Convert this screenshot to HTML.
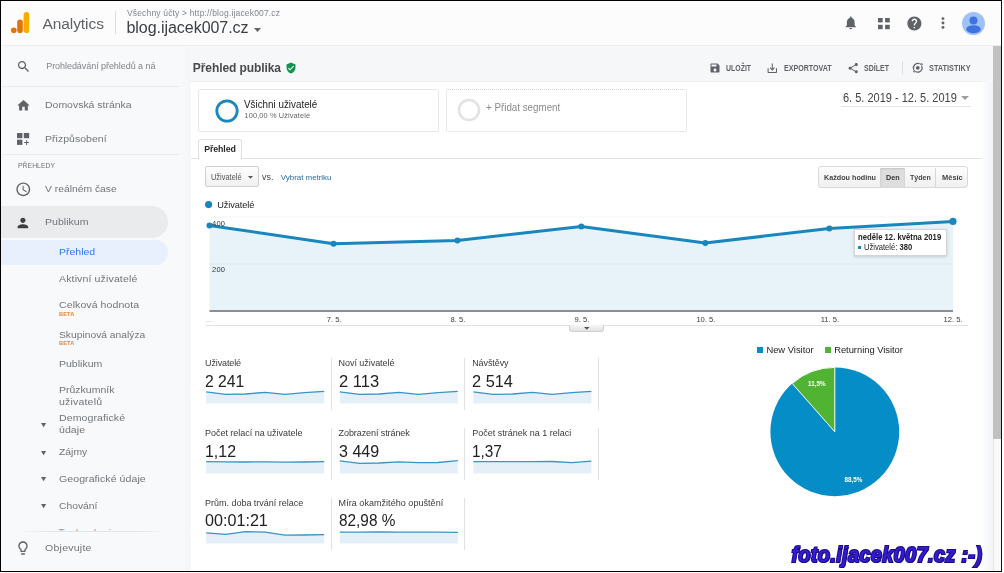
<!DOCTYPE html>
<html lang="cs"><head><meta charset="utf-8"><title>Analytics - Přehled publika</title>
<style>
*{margin:0;padding:0;box-sizing:border-box}
html,body{width:1004px;height:573px;overflow:hidden;background:#fff}
body{position:relative;font-family:"Liberation Sans",sans-serif;color:#333}
.a{position:absolute}
.t{position:absolute;white-space:nowrap;line-height:1}
svg{position:absolute;overflow:visible}
</style></head>
<body>
<div class="a" style="left:0px;top:0px;width:1004px;height:573px;background:#f8f9fa"></div>
<div class="a" style="left:189px;top:46px;width:804px;height:526px;background:#f6f7f9"></div>
<div class="a" style="left:190.5px;top:81.5px;width:791.5px;height:490.5px;background:#fff"></div>
<div class="a" style="left:181px;top:46px;width:8px;height:526px;background:linear-gradient(to right,rgba(0,0,0,0),rgba(0,0,0,.012))"></div>
<div class="a" style="left:0px;top:0px;width:1004px;height:45px;background:#fcfcfd"></div>
<div class="a" style="left:0px;top:44.6px;width:1004px;height:1.4px;background:#ebedef"></div>
<div class="a" style="left:190.5px;top:81px;width:791.5px;height:1px;background:#eef0f2"></div>
<div class="a" style="left:982px;top:82px;width:11px;height:490px;background:linear-gradient(to right,#fcfdfe,#f2f4f8)"></div>
<div class="a" style="left:993px;top:46px;width:8px;height:526px;background:#f9f9f9;border-left:1px solid #e6e6e6"></div>
<div class="a" style="left:993px;top:46px;width:8px;height:393px;background:#c1c1c1"></div>
<svg style="left:11px;top:12px" width="19" height="21" viewBox="0 0 19 21"><rect x="12.6" y="0" width="5.6" height="21" rx="2.8" fill="#f9ab00"/><rect x="6.2" y="7.6" width="5.6" height="13.4" rx="2.8" fill="#e37400"/><circle cx="2.8" cy="18.2" r="2.8" fill="#e37400"/></svg>
<div class="a" style="left:115px;top:11px;width:1px;height:23px;background:#dadce0"></div>
<svg style="left:254px;top:27.5px" width="7" height="4" viewBox="0 0 7 4"><path d="M0 0h7L3.5 4z" fill="#5f6368"/></svg>
<svg style="left:842.5px;top:15px" width="15.5" height="15.5" viewBox="0 0 24 24"><path fill="#5f6368" d="M12 22c1.1 0 2-.9 2-2h-4c0 1.1.89 2 2 2zm6-6v-5c0-3.07-1.64-5.64-4.5-6.32V4c0-.83-.67-1.5-1.5-1.5s-1.5.67-1.5 1.5v.68C7.63 5.36 6 7.92 6 11v5l-2 2v1h16v-1l-2-2z"/></svg>
<svg style="left:878px;top:18px" width="12" height="11.4" viewBox="0 0 12 11.4"><rect x="0" y="0" width="4.7" height="4.4" fill="#5f6368"/><rect x="7.1" y="0" width="4.7" height="4.4" fill="#5f6368"/><rect x="0" y="6.8" width="4.7" height="4.4" fill="#5f6368"/><rect x="7.1" y="6.8" width="4.7" height="4.4" fill="#5f6368"/></svg>
<svg style="left:906px;top:14.6px" width="16.8" height="16.8" viewBox="0 0 24 24"><path fill="#5f6368" d="M12 2C6.48 2 2 6.48 2 12s4.48 10 10 10 10-4.48 10-10S17.52 2 12 2zm1 17h-2v-2h2v2zm2.07-7.75l-.9.92C13.45 12.9 13 13.5 13 15h-2v-.5c0-1.1.45-2.1 1.17-2.83l1.24-1.26c.37-.36.59-.86.59-1.41 0-1.1-.9-2-2-2s-2 .9-2 2H8c0-2.21 1.79-4 4-4s4 1.79 4 4c0 .88-.36 1.68-.93 2.25z"/></svg>
<svg style="left:940.5px;top:17px" width="4" height="12" viewBox="0 0 4 12"><circle cx="2" cy="1.6" r="1.45" fill="#5f6368"/><circle cx="2" cy="6" r="1.45" fill="#5f6368"/><circle cx="2" cy="10.4" r="1.45" fill="#5f6368"/></svg>
<svg style="left:961.6px;top:11.7px" width="23" height="23" viewBox="0 0 23 23"><circle cx="11.5" cy="11.5" r="11.5" fill="#a0c0f8"/><circle cx="11.5" cy="8.4" r="4" fill="#3d74e0"/><ellipse cx="11.5" cy="17.2" rx="7.2" ry="4" fill="#3d74e0"/></svg>
<svg style="left:15.6px;top:58.7px" width="15.2" height="15.2" viewBox="0 0 24 24"><path fill="#5f6368" d="M15.5 14h-.79l-.28-.27C15.41 12.59 16 11.11 16 9.5 16 5.91 13.09 3 9.5 3S3 5.91 3 9.5 5.91 16 9.5 16c1.61 0 3.09-.59 4.23-1.57l.27.28v.79l5 4.99L20.49 19l-4.99-5zm-6 0C7.01 14 5 11.99 5 9.5S7.01 5 9.5 5 14 7.01 14 9.5 11.99 14 9.5 14z"/></svg>
<div class="a" style="left:2px;top:86.4px;width:177px;height:1px;background:#ebecee"></div>
<svg style="left:15.5px;top:97.5px" width="15" height="15" viewBox="0 0 24 24"><path fill="#5f6368" d="M10 20v-6h4v6h5v-8h3L12 3 2 12h3v8z"/></svg>
<svg style="left:16.8px;top:133px" width="12.6" height="12.2" viewBox="0 0 12.6 12.2"><rect x="0" y="0" width="5.4" height="5.2" fill="#5f6368"/><rect x="6.8" y="0" width="5.4" height="5.2" fill="#5f6368"/><rect x="0" y="6.7" width="5.4" height="5.2" fill="#5f6368"/><path d="M9.1 7.2h1v1.9h1.9v1h-1.9v1.9h-1v-1.9H7.2v-1h1.9z" fill="#5f6368"/></svg>
<div class="a" style="left:2px;top:153.9px;width:177px;height:1px;background:#ebecee"></div>
<svg style="left:14.8px;top:181px" width="16.6" height="16.6" viewBox="0 0 24 24"><path fill="#5f6368" d="M11.99 2C6.47 2 2 6.48 2 12s4.47 10 9.99 10C17.52 22 22 17.52 22 12S17.52 2 11.99 2zM12 20c-4.42 0-8-3.58-8-8s3.58-8 8-8 8 3.58 8 8-3.58 8-8 8zm.5-13H11v6l5.25 3.15.75-1.23-4.5-2.67z"/></svg>
<div class="a" style="left:1px;top:206px;width:167.2px;height:31.5px;background:#eaebed;border-radius:0 16px 16px 0"></div>
<svg style="left:15.2px;top:214.6px" width="15.8" height="15.8" viewBox="0 0 24 24"><path fill="#3c4043" d="M12 12c2.21 0 4-1.79 4-4s-1.79-4-4-4-4 1.79-4 4 1.79 4 4 4zm0 2c-2.67 0-8 1.34-8 4v2h16v-2c0-2.66-5.33-4-8-4z"/></svg>
<div class="a" style="left:1px;top:239.6px;width:167.2px;height:25.4px;background:#e8f0fe;border-radius:0 13px 13px 0"></div>
<svg style="left:41.1px;top:422.6px" width="5.2" height="4.4" viewBox="0 0 6 5"><path d="M0 0h6L3 5z" fill="#5f6368"/></svg>
<svg style="left:41.1px;top:450.5px" width="5.2" height="4.4" viewBox="0 0 6 5"><path d="M0 0h6L3 5z" fill="#5f6368"/></svg>
<svg style="left:41.1px;top:476.9px" width="5.2" height="4.4" viewBox="0 0 6 5"><path d="M0 0h6L3 5z" fill="#5f6368"/></svg>
<svg style="left:41.1px;top:504.2px" width="5.2" height="4.4" viewBox="0 0 6 5"><path d="M0 0h6L3 5z" fill="#5f6368"/></svg>
<div class="a" style="left:58px;top:527px;width:90px;height:4.5px;overflow:hidden"><span class="t" style="left:.6px;top:1.5px;font-size:10px;letter-spacing:.5px;color:#9aa0a6">Technologie</span></div>
<div class="a" style="left:18px;top:531.3px;width:146px;height:1px;background:linear-gradient(to right,rgba(0,0,0,0),#e2e3e5 22%,#e2e3e5 82%,rgba(0,0,0,0))"></div>
<svg style="left:15px;top:539.8px" width="16" height="16" viewBox="0 0 24 24"><path fill="#5f6368" d="M9 21c0 .55.45 1 1 1h4c.55 0 1-.45 1-1v-1H9v1zm3-19C8.14 2 5 5.14 5 9c0 2.38 1.19 4.47 3 5.74V17c0 .55.45 1 1 1h6c.55 0 1-.45 1-1v-2.26c1.81-1.27 3-3.36 3-5.74 0-3.86-3.14-7-7-7zm2.85 11.1l-.85.6V16h-4v-2.3l-.85-.6C7.8 12.16 7 10.63 7 9c0-2.76 2.24-5 5-5s5 2.24 5 5c0 1.63-.8 3.16-2.15 4.1z"/></svg>
<svg style="left:284.9px;top:61.6px" width="12" height="12" viewBox="0 0 24 24"><path fill="#12934f" d="M12 1L3 5v6c0 5.55 3.84 10.74 9 12 5.16-1.26 9-6.45 9-12V5l-9-4zm-2 16l-4-4 1.41-1.41L10 14.17l6.59-6.59L18 9l-8 8z"/></svg>
<svg style="left:708.6px;top:61.8px" width="12" height="12" viewBox="0 0 24 24"><path fill="#5f6368" d="M17 3H5c-1.11 0-2 .9-2 2v14c0 1.1.89 2 2 2h14c1.1 0 2-.9 2-2V7l-4-4zm-5 16c-1.66 0-3-1.34-3-3s1.34-3 3-3 3 1.34 3 3-1.34 3-3 3zm3-10H5V5h10v4z"/></svg>
<svg style="left:766px;top:62px" width="12.6" height="12.6" viewBox="0 0 24 24"><path fill="#5f6368" d="M19 12v7H5v-7H3v7c0 1.1.9 2 2 2h14c1.1 0 2-.9 2-2v-7h-2zm-6 .67l2.59-2.58L17 11.5l-5 5-5-5 1.41-1.41L11 12.67V3h2z"/></svg>
<svg style="left:847.4px;top:61.6px" width="12.4" height="12.4" viewBox="0 0 24 24"><path fill="#5f6368" d="M18 16.08c-.76 0-1.44.3-1.96.77L8.91 12.7c.05-.23.09-.46.09-.7s-.04-.47-.09-.7l7.05-4.11c.54.5 1.25.81 2.04.81 1.66 0 3-1.34 3-3s-1.34-3-3-3-3 1.34-3 3c0 .24.04.47.09.7L8.04 9.81C7.5 9.31 6.79 9 6 9c-1.66 0-3 1.34-3 3s1.34 3 3 3c.79 0 1.5-.31 2.04-.81l7.12 4.16c-.05.21-.08.43-.08.65 0 1.61 1.31 2.92 2.92 2.92 1.61 0 2.92-1.31 2.92-2.92s-1.31-2.92-2.92-2.92z"/></svg>
<div class="a" style="left:902.3px;top:60.5px;width:1px;height:13.5px;background:#dadce0"></div>
<svg style="left:912.2px;top:62.2px" width="11.6" height="11.6" viewBox="0 0 24 24" fill="none" stroke="#5f6368" stroke-width="2.7" stroke-linecap="round"><path d="M14.8 3.4A9 9 0 0 0 3.5 15"/><path d="M9.2 20.6A9 9 0 0 0 20.5 9"/><circle cx="12" cy="12" r="3.9" fill="#5f6368" stroke="none"/><circle cx="19.3" cy="4.7" r="1.7" stroke-width="1.7"/><circle cx="4.7" cy="19.3" r="1.7" stroke-width="1.7"/></svg>
<div class="a" style="left:198px;top:88.8px;width:240.6px;height:42.8px;border:1px solid #e8e8e8;background:#fff;border-radius:2px"></div>
<svg style="left:215px;top:98.5px" width="24" height="24" viewBox="0 0 24 24"><circle cx="12" cy="12" r="10.2" fill="none" stroke="#1a87bd" stroke-width="2.8"/></svg>
<div class="a" style="left:446px;top:88.8px;width:241px;height:42.8px;border:1px dotted #d4d4d4;background:#fff;border-radius:2px"></div>
<svg style="left:457px;top:98px" width="24" height="24" viewBox="0 0 24 24"><circle cx="12" cy="12" r="10" fill="none" stroke="#e3e3e3" stroke-width="2.6"/></svg>
<svg style="left:961px;top:95.5px" width="8" height="4" viewBox="0 0 8 4"><path d="M0 0h8L4 4z" fill="#9e9e9e"/></svg>
<div class="a" style="left:841px;top:105.8px;width:130px;height:1px;background:#e4e4e4"></div>
<div class="a" style="left:191px;top:158.4px;width:791px;height:1px;background:#e2e2e2"></div>
<div class="a" style="left:198px;top:139.4px;width:44px;height:20px;background:#fff;border:1px solid #e0e0e0;border-bottom:0;border-radius:3px 3px 0 0"></div>
<div class="a" style="left:205.4px;top:166.3px;width:53.3px;height:21.2px;border:1px solid #cfcfcf;border-radius:2px;background:linear-gradient(#fdfdfd,#f1f1f1)"></div>
<svg style="left:248.4px;top:175.6px" width="5" height="2.8" viewBox="0 0 5 2.8"><path d="M0 0h5L2.5 2.8z" fill="#555"/></svg>
<div class="a" style="left:818.3px;top:166.4px;width:150px;height:21.2px;border:1px solid #d9d9d9;border-radius:3px;background:linear-gradient(#fdfdfd,#f0f0f0)"></div>
<div class="a" style="left:880.7px;top:167.6px;width:24px;height:19px;background:#dedede;box-shadow:inset 0 1px 2px rgba(0,0,0,.12)"></div>
<div class="a" style="left:880.2px;top:167.6px;width:1px;height:19px;background:#d6d6d6"></div>
<div class="a" style="left:904.2px;top:167.6px;width:1px;height:19px;background:#d6d6d6"></div>
<div class="a" style="left:934.9px;top:167.6px;width:1px;height:19px;background:#d6d6d6"></div>
<svg style="left:205px;top:200.9px" width="7.2" height="7.2" viewBox="0 0 7.2 7.2"><circle cx="3.6" cy="3.6" r="3.6" fill="#1987be"/></svg>
<svg style="left:0;top:0" width="1004" height="573" viewBox="0 0 1004 573"><path d="M209.5,310.5 L209.5,225.4 L333.5,243.7 L457.4,240.4 L581.3,226.6 L705.3,242.9 L829.3,228.6 L953,221.4 L953,310.5 Z" fill="#e7f3f9"/><rect x="209.5" y="216.5" width="743.5" height="1" fill="#f4f5f6"/><rect x="209.5" y="263.5" width="743.5" height="1" fill="#dbe6ee"/><rect x="209.5" y="310.4" width="743.5" height="1.2" fill="#3f4a50"/><polyline points="209.5,225.4 333.5,243.7 457.4,240.4 581.3,226.6 705.3,242.9 829.3,228.6 953,221.4" fill="none" stroke="#1987be" stroke-width="3" stroke-linejoin="round"/><circle cx="209.5" cy="225.4" r="3" fill="#1987be"/><circle cx="333.5" cy="243.7" r="3" fill="#1987be"/><circle cx="457.4" cy="240.4" r="3" fill="#1987be"/><circle cx="581.3" cy="226.6" r="3" fill="#1987be"/><circle cx="705.3" cy="242.9" r="3" fill="#1987be"/><circle cx="829.3" cy="228.6" r="3" fill="#1987be"/><circle cx="953" cy="221.4" r="3.6" fill="#1987be"/></svg>
<div class="a" style="left:205.5px;top:325.4px;width:762px;height:1px;background:#e2e2e2"></div>
<div class="a" style="left:569px;top:325.4px;width:34.7px;height:6.2px;background:linear-gradient(#f6f6f6,#e2e2e2);border:1px solid #d0d0d0;border-top:0;border-radius:0 0 3px 3px"></div>
<svg style="left:584.2px;top:327px" width="5.6" height="2.8" viewBox="0 0 5.6 2.8"><path d="M0 0h5.6L2.8 2.8z" fill="#555"/></svg>
<div class="a" style="left:853.5px;top:229.4px;width:93.2px;height:26.7px;background:#fff;border:1px solid #d4d4d4;box-shadow:0 1px 3px rgba(0,0,0,.16)"></div>
<div class="a" style="left:858.2px;top:246px;width:3.2px;height:3.2px;background:#1987be"></div>
<svg style="left:0;top:0" width="1004" height="573" viewBox="0 0 1004 573"><path d="M206.2,403.4 L206.2,391.9 L225.9,394.4 L245.5,394.0 L265.2,392.3 L284.9,394.4 L304.5,392.7 L324.2,391.3 L324.2,403.4 Z" fill="#e4eff7"/><polyline points="206.2,391.9 225.9,394.4 245.5,394.0 265.2,392.3 284.9,394.4 304.5,392.7 324.2,391.3" fill="none" stroke="#3795c6" stroke-width="1.3" stroke-linejoin="round"/></svg>
<svg style="left:0;top:0" width="1004" height="573" viewBox="0 0 1004 573"><path d="M339.8,403.4 L339.8,391.9 L359.5,394.4 L379.1,394.0 L398.8,392.3 L418.5,394.4 L438.1,392.7 L457.8,391.3 L457.8,403.4 Z" fill="#e4eff7"/><polyline points="339.8,391.9 359.5,394.4 379.1,394.0 398.8,392.3 418.5,394.4 438.1,392.7 457.8,391.3" fill="none" stroke="#3795c6" stroke-width="1.3" stroke-linejoin="round"/></svg>
<svg style="left:0;top:0" width="1004" height="573" viewBox="0 0 1004 573"><path d="M473.4,403.4 L473.4,391.9 L493.1,394.4 L512.7,394.0 L532.4,392.3 L552.1,394.4 L571.7,392.7 L591.4,391.3 L591.4,403.4 Z" fill="#e4eff7"/><polyline points="473.4,391.9 493.1,394.4 512.7,394.0 532.4,392.3 552.1,394.4 571.7,392.7 591.4,391.3" fill="none" stroke="#3795c6" stroke-width="1.3" stroke-linejoin="round"/></svg>
<svg style="left:0;top:0" width="1004" height="573" viewBox="0 0 1004 573"><path d="M206.2,473.4 L206.2,461.7 L225.9,461.9 L245.5,462.0 L265.2,461.8 L284.9,462.1 L304.5,462.0 L324.2,461.7 L324.2,473.4 Z" fill="#e4eff7"/><polyline points="206.2,461.7 225.9,461.9 245.5,462.0 265.2,461.8 284.9,462.1 304.5,462.0 324.2,461.7" fill="none" stroke="#3795c6" stroke-width="1.3" stroke-linejoin="round"/></svg>
<svg style="left:0;top:0" width="1004" height="573" viewBox="0 0 1004 573"><path d="M339.8,473.4 L339.8,460.9 L359.5,463.4 L379.1,463.0 L398.8,461.8 L418.5,462.7 L438.1,462.5 L457.8,460.7 L457.8,473.4 Z" fill="#e4eff7"/><polyline points="339.8,460.9 359.5,463.4 379.1,463.0 398.8,461.8 418.5,462.7 438.1,462.5 457.8,460.7" fill="none" stroke="#3795c6" stroke-width="1.3" stroke-linejoin="round"/></svg>
<svg style="left:0;top:0" width="1004" height="573" viewBox="0 0 1004 573"><path d="M473.4,473.4 L473.4,461.6 L493.1,461.7 L512.7,461.6 L532.4,461.7 L552.1,461.5 L571.7,462.6 L591.4,461.2 L591.4,473.4 Z" fill="#e4eff7"/><polyline points="473.4,461.6 493.1,461.7 512.7,461.6 532.4,461.7 552.1,461.5 571.7,462.6 591.4,461.2" fill="none" stroke="#3795c6" stroke-width="1.3" stroke-linejoin="round"/></svg>
<svg style="left:0;top:0" width="1004" height="573" viewBox="0 0 1004 573"><path d="M206.2,543.4 L206.2,532.8 L225.9,534.4 L245.5,531.6 L265.2,532.2 L284.9,535.1 L304.5,535.0 L324.2,534.6 L324.2,543.4 Z" fill="#e4eff7"/><polyline points="206.2,532.8 225.9,534.4 245.5,531.6 265.2,532.2 284.9,535.1 304.5,535.0 324.2,534.6" fill="none" stroke="#3795c6" stroke-width="1.3" stroke-linejoin="round"/></svg>
<svg style="left:0;top:0" width="1004" height="573" viewBox="0 0 1004 573"><path d="M339.8,543.4 L339.8,532.2 L359.5,532.2 L379.1,532.0 L398.8,532.1 L418.5,532.1 L438.1,532.2 L457.8,532.3 L457.8,543.4 Z" fill="#e4eff7"/><polyline points="339.8,532.2 359.5,532.2 379.1,532.0 398.8,532.1 418.5,532.1 438.1,532.2 457.8,532.3" fill="none" stroke="#3795c6" stroke-width="1.3" stroke-linejoin="round"/></svg>
<div class="a" style="left:330.6px;top:358.4px;width:1px;height:51.6px;background:#e2e2e2"></div>
<div class="a" style="left:464.1px;top:358.4px;width:1px;height:51.6px;background:#e2e2e2"></div>
<div class="a" style="left:598.2px;top:358.4px;width:1px;height:51.6px;background:#e2e2e2"></div>
<div class="a" style="left:330.6px;top:428.2px;width:1px;height:51.8px;background:#e2e2e2"></div>
<div class="a" style="left:464.1px;top:428.2px;width:1px;height:51.8px;background:#e2e2e2"></div>
<div class="a" style="left:598.2px;top:428.2px;width:1px;height:51.8px;background:#e2e2e2"></div>
<div class="a" style="left:330.6px;top:498px;width:1px;height:52.2px;background:#e2e2e2"></div>
<div class="a" style="left:464.1px;top:498px;width:1px;height:52.2px;background:#e2e2e2"></div>
<svg style="left:0;top:0" width="1004" height="573" viewBox="0 0 1004 573"><circle cx="834.8" cy="431.8" r="64.4" fill="#058dc7"/><path d="M834.8,431.8 L792.212,383.493 A64.4,64.4 0 0 1 834.8,367.4 Z" fill="#50b432" stroke="#fff" stroke-width="1" stroke-linejoin="round"/></svg>
<div class="a" style="left:756.7px;top:346.7px;width:6.8px;height:6.5px;background:#058dc7"></div>
<div class="a" style="left:824.7px;top:346.7px;width:6.8px;height:6.5px;background:#50b432"></div>
<div class="a" style="left:0;top:0;width:1004px;height:573px;will-change:transform">
<span class="t" style="left:42.39px;top:15.70px;font-size:15.5px;color:#5f6368;letter-spacing:-0.056px;">Analytics</span>
<span class="t" style="left:126.95px;top:9.00px;font-size:8.5px;color:#80868b;letter-spacing:0.168px;">Všechny účty &gt; http://blog.ijacek007.cz</span>
<span class="t" style="left:126.46px;top:20.00px;font-size:16px;color:#3c4043;letter-spacing:-0.039px;">blog.ijacek007.cz</span>
<span class="t" style="left:46.21px;top:62.00px;font-size:9px;color:#80868b;letter-spacing:-0.055px;">Prohledávání přehledů a ná</span>
<span class="t" style="left:45.37px;top:100.20px;font-size:9.7px;color:#70757a;transform-origin:0 0;transform:scaleX(1.0803);">Domovská stránka</span>
<span class="t" style="left:45.37px;top:133.80px;font-size:9.7px;color:#70757a;transform-origin:0 0;transform:scaleX(1.0900);">Přizpůsobení</span>
<span class="t" style="left:18.13px;top:161.80px;font-size:7.3px;color:#70757a;transform-origin:0 0;transform:scaleX(0.9433);">PŘEHLEDY</span>
<span class="t" style="left:45.37px;top:183.90px;font-size:9.7px;color:#70757a;transform-origin:0 0;transform:scaleX(1.0649);">V reálném čase</span>
<span class="t" style="left:45.37px;top:217.40px;font-size:9.7px;color:#70757a;transform-origin:0 0;transform:scaleX(1.0900);">Publikum</span>
<span class="t" style="left:58.97px;top:246.80px;font-size:9.7px;color:#2a7ae6;transform-origin:0 0;transform:scaleX(1.0830);">Přehled</span>
<span class="t" style="left:58.67px;top:273.80px;font-size:9.7px;color:#70757a;letter-spacing:0.113px;transform-origin:0 0;transform:scaleX(1.0900);">Aktivní uživatelé</span>
<span class="t" style="left:58.67px;top:300.00px;font-size:9.7px;color:#70757a;letter-spacing:0.060px;transform-origin:0 0;transform:scaleX(1.0900);">Celková hodnota</span>
<span class="t" style="left:59.46px;top:311.50px;font-size:5.2px;color:#e8853a;font-weight:700;letter-spacing:0.115px;transform-origin:0 0;transform:scaleX(1.0900);">BETA</span>
<span class="t" style="left:58.67px;top:329.50px;font-size:9.7px;color:#70757a;transform-origin:0 0;transform:scaleX(1.0609);">Skupinová analýza</span>
<span class="t" style="left:59.46px;top:340.50px;font-size:5.2px;color:#e8853a;font-weight:700;letter-spacing:0.115px;transform-origin:0 0;transform:scaleX(1.0900);">BETA</span>
<span class="t" style="left:58.67px;top:359.00px;font-size:9.7px;color:#70757a;transform-origin:0 0;transform:scaleX(1.0862);">Publikum</span>
<span class="t" style="left:58.67px;top:385.30px;font-size:9.7px;color:#70757a;transform-origin:0 0;transform:scaleX(1.0845);">Průzkumník</span>
<span class="t" style="left:58.67px;top:396.90px;font-size:9.7px;color:#70757a;letter-spacing:0.159px;transform-origin:0 0;transform:scaleX(1.0900);">uživatelů</span>
<span class="t" style="left:58.67px;top:412.70px;font-size:9.7px;color:#70757a;letter-spacing:0.078px;transform-origin:0 0;transform:scaleX(1.0900);">Demografické</span>
<span class="t" style="left:58.67px;top:424.70px;font-size:9.7px;color:#70757a;letter-spacing:0.052px;transform-origin:0 0;transform:scaleX(1.0900);">údaje</span>
<span class="t" style="left:58.67px;top:447.00px;font-size:9.7px;color:#70757a;transform-origin:0 0;transform:scaleX(1.0722);">Zájmy</span>
<span class="t" style="left:58.67px;top:474.20px;font-size:9.7px;color:#70757a;letter-spacing:0.055px;transform-origin:0 0;transform:scaleX(1.0900);">Geografické údaje</span>
<span class="t" style="left:58.67px;top:500.90px;font-size:9.7px;color:#70757a;transform-origin:0 0;transform:scaleX(1.0661);">Chování</span>
<span class="t" style="left:44.97px;top:542.60px;font-size:9.7px;color:#70757a;letter-spacing:0.213px;transform-origin:0 0;transform:scaleX(1.0900);">Objevujte</span>
<span class="t" style="left:192.82px;top:61.70px;font-size:12px;color:#484a4d;font-weight:700;letter-spacing:-0.080px;">Přehled publika</span>
<span class="t" style="left:726.36px;top:64.00px;font-size:8.3px;color:#5f6368;font-weight:700;transform-origin:0 0;transform:scaleX(0.8369);">ULOŽIT</span>
<span class="t" style="left:784.46px;top:64.00px;font-size:8.3px;color:#5f6368;font-weight:700;transform-origin:0 0;transform:scaleX(0.8548);">EXPORTOVAT</span>
<span class="t" style="left:864.46px;top:64.00px;font-size:8.3px;color:#5f6368;font-weight:700;transform-origin:0 0;transform:scaleX(0.8464);">SDÍLET</span>
<span class="t" style="left:929.46px;top:64.00px;font-size:8.3px;color:#5f6368;font-weight:700;transform-origin:0 0;transform:scaleX(0.8836);">STATISTIKY</span>
<span class="t" style="left:244.30px;top:98.80px;font-size:10.8px;color:#222;transform-origin:0 0;transform:scaleX(0.9109);">Všichni uživatelé</span>
<span class="t" style="left:244.52px;top:112.40px;font-size:7.4px;color:#666;letter-spacing:0.108px;">100,00 % Uživatelé</span>
<span class="t" style="left:486.32px;top:103.00px;font-size:10.4px;color:#8a8a8a;transform-origin:0 0;transform:scaleX(0.9415);">+ Přidat segment</span>
<span class="t" style="left:842.62px;top:91.80px;font-size:12px;color:#444;transform-origin:0 0;transform:scaleX(0.9173);">6. 5. 2019 - 12. 5. 2019</span>
<span class="t" style="left:204.23px;top:144.80px;font-size:8.8px;color:#2a2a2a;font-weight:700;letter-spacing:-0.111px;">Přehled</span>
<span class="t" style="left:210.65px;top:172.90px;font-size:8.5px;color:#555;transform-origin:0 0;transform:scaleX(0.8749);">Uživatelé</span>
<span class="t" style="left:261.69px;top:171.80px;font-size:9.4px;color:#444;transform-origin:0 0;transform:scaleX(0.9477);">vs.</span>
<span class="t" style="left:280.78px;top:173.80px;font-size:8px;color:#2b6da3;letter-spacing:-0.040px;">Vybrat metriku</span>
<span class="t" style="left:824.08px;top:173.50px;font-size:8px;color:#444;font-weight:700;transform-origin:0 0;transform:scaleX(0.8995);">Každou hodinu</span>
<span class="t" style="left:886.08px;top:173.50px;font-size:8px;color:#333;font-weight:700;transform-origin:0 0;transform:scaleX(0.8965);">Den</span>
<span class="t" style="left:910.08px;top:173.50px;font-size:8px;color:#444;font-weight:700;transform-origin:0 0;transform:scaleX(0.8853);">Týden</span>
<span class="t" style="left:941.68px;top:173.50px;font-size:8px;color:#444;font-weight:700;transform-origin:0 0;transform:scaleX(0.9337);">Měsíc</span>
<span class="t" style="left:217.30px;top:201.30px;font-size:9.2px;color:#222;letter-spacing:-0.082px;">Uživatelé</span>
<span class="t" style="left:212.01px;top:219.60px;font-size:7.5px;color:#333;letter-spacing:0.205px;">400</span>
<span class="t" style="left:212.01px;top:266.30px;font-size:7.5px;color:#333;letter-spacing:0.205px;">200</span>
<span class="t" style="left:205.54px;top:315.60px;font-size:7px;color:#999;">…</span>
<span class="t" style="left:326.71px;top:315.80px;font-size:7.6px;color:#3a3a3a;">7. 5.</span>
<span class="t" style="left:450.61px;top:315.80px;font-size:7.6px;color:#3a3a3a;">8. 5.</span>
<span class="t" style="left:574.51px;top:315.80px;font-size:7.6px;color:#3a3a3a;">9. 5.</span>
<span class="t" style="left:696.40px;top:315.80px;font-size:7.6px;color:#3a3a3a;">10. 5.</span>
<span class="t" style="left:820.68px;top:315.80px;font-size:7.6px;color:#3a3a3a;">11. 5.</span>
<span class="t" style="left:943.49px;top:315.80px;font-size:7.6px;color:#3a3a3a;">12. 5.</span>
<span class="t" style="left:857.75px;top:233.20px;font-size:8.4px;color:#222;font-weight:700;transform-origin:0 0;transform:scaleX(0.9210);">neděle 12. května 2019</span>
<span class="t" style="left:864.15px;top:242.90px;font-size:8.4px;color:#222;transform-origin:0 0;transform:scaleX(0.9076);">Uživatelé: <b>380</b></span>
<span class="t" style="left:205.01px;top:359.20px;font-size:9px;color:#3a3a3a;letter-spacing:-0.123px;">Uživatelé</span>
<span class="t" style="left:204.93px;top:372.90px;font-size:16.4px;color:#222;transform-origin:0 0;transform:scaleX(0.9590);">2 241</span>
<span class="t" style="left:338.62px;top:359.20px;font-size:9px;color:#3a3a3a;letter-spacing:-0.054px;">Noví uživatelé</span>
<span class="t" style="left:338.53px;top:372.90px;font-size:16.4px;color:#222;transform-origin:0 0;transform:scaleX(1.0084);">2 113</span>
<span class="t" style="left:472.22px;top:359.20px;font-size:9px;color:#3a3a3a;letter-spacing:-0.098px;">Návštěvy</span>
<span class="t" style="left:472.13px;top:372.90px;font-size:16.4px;color:#222;transform-origin:0 0;transform:scaleX(0.9980);">2 514</span>
<span class="t" style="left:205.01px;top:429.00px;font-size:9px;color:#3a3a3a;letter-spacing:-0.026px;">Počet relací na uživatele</span>
<span class="t" style="left:204.93px;top:442.70px;font-size:16.4px;color:#222;transform-origin:0 0;transform:scaleX(0.9731);">1,12</span>
<span class="t" style="left:338.62px;top:429.00px;font-size:9px;color:#3a3a3a;letter-spacing:-0.089px;">Zobrazení stránek</span>
<span class="t" style="left:338.53px;top:442.70px;font-size:16.4px;color:#222;transform-origin:0 0;transform:scaleX(0.9785);">3 449</span>
<span class="t" style="left:472.22px;top:429.00px;font-size:9px;color:#3a3a3a;">Počet stránek na 1 relaci</span>
<span class="t" style="left:472.13px;top:442.70px;font-size:16.4px;color:#222;transform-origin:0 0;transform:scaleX(0.9355);">1,37</span>
<span class="t" style="left:205.01px;top:498.80px;font-size:9px;color:#3a3a3a;letter-spacing:-0.014px;">Prům. doba trvání relace</span>
<span class="t" style="left:204.93px;top:512.00px;font-size:16.4px;color:#222;transform-origin:0 0;transform:scaleX(0.9849);">00:01:21</span>
<span class="t" style="left:338.62px;top:498.80px;font-size:9px;color:#3a3a3a;letter-spacing:0.046px;">Míra okamžitého opuštění</span>
<span class="t" style="left:338.53px;top:512.00px;font-size:16.4px;color:#222;transform-origin:0 0;transform:scaleX(0.9367);">82,98 %</span>
<span class="t" style="left:766.39px;top:344.90px;font-size:9.4px;color:#222;">New Visitor</span>
<span class="t" style="left:834.19px;top:344.90px;font-size:9.4px;color:#222;letter-spacing:-0.030px;">Returning Visitor</span>
<span class="t" style="left:808.04px;top:380.80px;font-size:6.3px;color:#fff;font-weight:700;">11,5%</span>
<span class="t" style="left:844.57px;top:476.60px;font-size:6.3px;color:#fff;font-weight:700;">88,5%</span>
<span class="t" style="left:791.4px;top:545.344px;font-size:20px;font-weight:700;font-style:italic;color:#351bcf;letter-spacing:0.3px;-webkit-text-stroke:1.9px #1b0d88;paint-order:stroke fill;text-shadow:.9px .9px 0 #1b0d88;transform-origin:0 100%;transform:scale(1,1.1)">foto.ijacek007.cz :-)</span>
</div>
<div class="a" style="left:0px;top:0px;width:1004px;height:1.2px;background:#000"></div>
<div class="a" style="left:0px;top:0px;width:1.3px;height:573px;background:#000"></div>
<div class="a" style="left:0px;top:571px;width:1004px;height:1.4px;background:#000"></div>
<div class="a" style="left:0px;top:572.4px;width:1004px;height:0.6px;background:#fff"></div>
<div class="a" style="left:1001px;top:0px;width:1.3px;height:572.4px;background:#111"></div>
<div class="a" style="left:1002.3px;top:0px;width:1.7px;height:573px;background:#fff"></div>
</body></html>
